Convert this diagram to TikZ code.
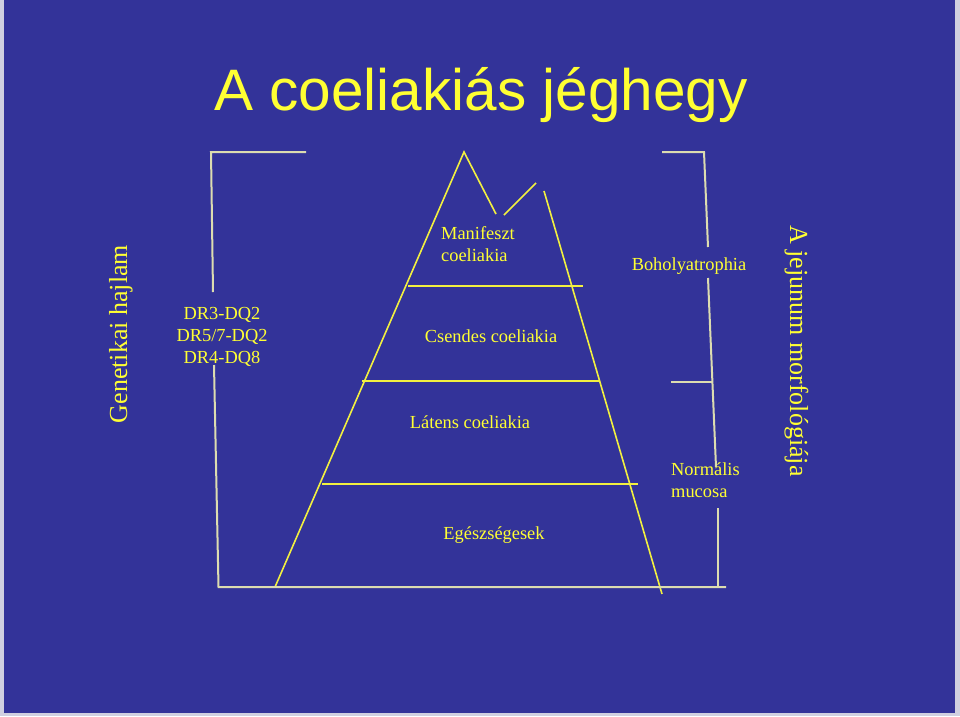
\documentclass[tikz,border=0pt]{standalone}
\usepackage{fontspec}
\setmainfont{Liberation Serif}
\newfontfamily\titlefont{Liberation Sans}
\definecolor{bg}{HTML}{333399}
\definecolor{txt}{HTML}{FFFF33}
\definecolor{ice}{HTML}{F2F040}
\definecolor{brk}{HTML}{DCDCB0}
\definecolor{framec}{HTML}{D0D0E0}
\begin{document}
\begin{tikzpicture}[x=1pt,y=-1pt,
  lbl/.style={text=txt, inner sep=0pt, font=\fontsize{18.4}{22}\selectfont, anchor=base},
  sidelbl/.style={text=txt, inner sep=0pt, font=\fontsize{26}{30}\selectfont, anchor=base},
  iceline/.style={draw=ice, line width=1.6pt},
  brkline/.style={draw=brk, line width=2pt}]
\useasboundingbox (0,0) rectangle (960,716);
\fill[framec] (0,0) rectangle (960,716);
\fill[bg] (4,0) rectangle (955,713);

% title
\node[text=txt, inner sep=0pt, anchor=base, font=\titlefont\fontsize{58.5}{60}\selectfont] (title) at (481,110) {A coeliakiás jéghegy};

% iceberg outline
\coordinate (lbot) at (275,587);
\coordinate (peakL) at (464,152);
\coordinate (notchA) at (496,214);
\coordinate (notchB) at (504,215);
\coordinate (peakR) at (536,183);
\coordinate (rtop) at (544,191);
\coordinate (rbot) at (662,594);
\draw[iceline] (lbot) -- (peakL) -- (notchA);
\draw[iceline] (notchB) -- (peakR);
\draw[iceline] (rtop) -- (rbot);

% layer lines
\coordinate (h1a) at (408,286); \coordinate (h1b) at (583,286);
\coordinate (h2a) at (362,381); \coordinate (h2b) at (600,381);
\coordinate (h3a) at (322,484); \coordinate (h3b) at (638,484);
\draw[iceline] (h1a) -- (h1b);
\draw[iceline] (h2a) -- (h2b);
\draw[iceline] (h3a) -- (h3b);

% left bracket
\coordinate (lbA) at (306,152);
\coordinate (lbB) at (211,152);
\coordinate (lbC) at (213,292);
\coordinate (lbD) at (214,365);
\coordinate (lbE) at (218.5,587);
\coordinate (botR) at (726,587);
\draw[brkline] (lbA) -- (lbB) -- (lbC);
\draw[brkline] (lbD) -- (lbE) -- (botR);

% right bracket
\coordinate (rbA) at (662,152);
\coordinate (rbB) at (704,152);
\coordinate (rbC) at (708,247);
\coordinate (rbD) at (708,278);
\coordinate (rbE) at (716,467);
\coordinate (tickA) at (671,382);
\coordinate (tickB) at (712,382);
\coordinate (rbF) at (718,508);
\coordinate (rbG) at (718,587);
\draw[brkline] (rbA) -- (rbB) -- (rbC);
\draw[brkline] (rbD) -- (rbE);
\draw[brkline] (tickA) -- (tickB);
\draw[brkline] (rbF) -- (rbG);

% labels
\node[lbl] (dr1) at (222,319) {DR3-DQ2};
\node[lbl] (dr2) at (222,341) {DR5/7-DQ2};
\node[lbl] (dr3) at (222,363) {DR4-DQ8};
\node[lbl, anchor=base west] (man1) at (441,239) {Manifeszt};
\node[lbl, anchor=base west] (man2) at (441,261) {coeliakia};
\node[lbl] (csendes) at (491,342) {Csendes coeliakia};
\node[lbl] (latens) at (470,428) {Látens coeliakia};
\node[lbl] (egesz) at (494,539) {Egészségesek};
\node[lbl] (boholy) at (689,270) {Boholyatrophia};
\node[lbl, anchor=base west] (norm1) at (671,475) {Normális};
\node[lbl, anchor=base west] (norm2) at (671,497) {mucosa};
\node[sidelbl, rotate=90] (genet) at (127,334) {Genetikai hajlam};
\node[sidelbl, rotate=-90] (jejun) at (790,351) {A jejunum morfológiája};
\end{tikzpicture}
\end{document}
